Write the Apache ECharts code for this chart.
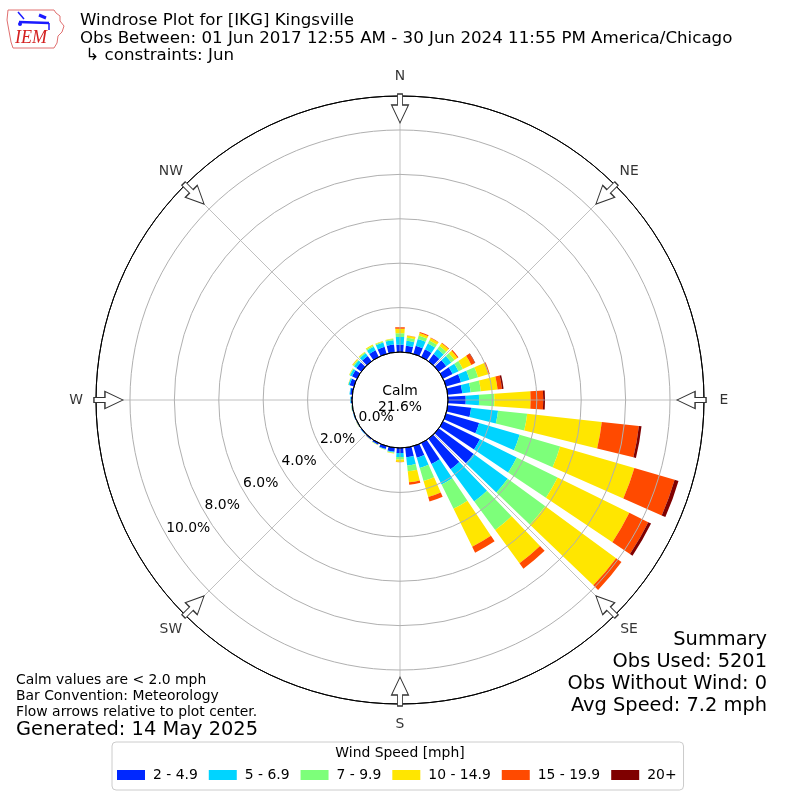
<!DOCTYPE html>
<html><head><meta charset="utf-8">
<script src="https://cdn.jsdelivr.net/npm/echarts@6/dist/echarts.min.js"></script>
<style>html,body{margin:0;padding:0;background:#fff}#c{width:800px;height:800px}</style>
</head><body><div id="c"></div>
<script>
// ---- data (percent of observations) ----
const directions = [0,10,20,30,40,50,60,70,80,90,100,110,120,130,140,150,160,170,180,190,200,210,220,230,240,250,260,270,280,290,300,310,320,330,340,350];
const speedBins = ['2 - 4.9', '5 - 6.9', '7 - 9.9', '10 - 14.9', '15 - 19.9', '20+'];
const binColors = ['#0028ff', '#00d4ff', '#7dff7a', '#ffe600', '#ff4a00', '#7f0000'];
const speed2to5   = [0.33,0.30,0.38,0.38,0.40,0.42,0.48,0.70,0.66,0.80,1.06,1.55,1.85,1.95,1.70,1.05,0.55,0.43,0.23,0.18,0.14,0.08,0.05,0.04,0.03,0.03,0.03,0.05,0.10,0.20,0.25,0.28,0.30,0.33,0.33,0.35];
const speed5to7   = [0.35,0.22,0.32,0.30,0.28,0.28,0.30,0.40,0.38,0.60,1.22,1.90,1.85,1.90,1.80,1.03,0.48,0.38,0.18,0.04,0.02,0.01,0.01,0.01,0.01,0.01,0.02,0.03,0.03,0.06,0.10,0.13,0.15,0.18,0.20,0.20];
const speed7to10  = [0.17,0.14,0.16,0.15,0.17,0.18,0.22,0.40,0.46,0.69,1.32,1.90,2.05,2.10,1.60,1.22,0.61,0.26,0.11,0.02,0.01,0.01,0.00,0.00,0.00,0.00,0.00,0.00,0.00,0.01,0.03,0.05,0.05,0.06,0.05,0.05];
const speed10to15 = [0.20,0.09,0.12,0.12,0.15,0.17,0.42,0.48,0.76,1.63,3.38,3.48,3.60,3.95,1.85,1.90,0.75,0.50,0.11,0.02,0.01,0.01,0.01,0.00,0.01,0.00,0.01,0.00,0.00,0.01,0.02,0.04,0.03,0.05,0.03,0.02];
const speed15to20 = [0.07,0.01,0.05,0.02,0.04,0.05,0.18,0.07,0.20,0.57,1.68,1.89,0.95,0.30,0.30,0.30,0.21,0.11,0.01,0,0,0,0,0,0,0,0,0,0,0,0,0.01,0,0,0,0];
const speed20up   = [0,0,0,0,0,0,0.02,0,0.07,0.08,0.12,0.18,0.14,0,0,0,0,0,0,0,0,0,0,0,0,0,0,0,0,0,0,0,0,0,0,0];
const binValues = [speed2to5, speed5to7, speed7to10, speed10to15, speed15to20, speed20up];
const compassNames = ['N','NE','E','SE','S','SW','W','NW'];
const compassAngles = [0,45,90,135,180,225,270,315];
const radiusTicks = [0,2,4,6,8,10];
const calmPercent = 21.6;
const titleLines = ['Windrose Plot for [IKG] Kingsville',
  'Obs Between: 01 Jun 2017 12:55 AM - 30 Jun 2024 11:55 PM America/Chicago',
  ' \u21b3 constraints: Jun'];
const noteLines = ['Calm values are < 2.0 mph', 'Bar Convention: Meteorology', 'Flow arrows relative to plot center.'];
const summaryLines = ['Summary', 'Obs Used: 5201', 'Obs Without Wind: 0', 'Avg Speed: 7.2 mph'];
const generatedText = 'Generated: 14 May 2025';

// ---- chart ----
const FONT = 'DejaVu Sans';
const RMAX = 11.53;
const ARROW_R = 10.97;
const chart = echarts.init(document.getElementById('c'), null, {renderer: 'canvas'});

const barSeries = speedBins.map((name, i) => ({
  name: name, type: 'bar', coordinateSystem: 'polar', polarIndex: 0, stack: 'wind',
  data: binValues[i], barCategoryGap: '24%', itemStyle: {color: binColors[i]}, silent: true
}));

const arrowSeries = {
  type: 'scatter', coordinateSystem: 'polar', polarIndex: 1, z: 6, silent: true,
  symbol: 'path://M6,0L11,0L11,11L17,11L8.5,29L0,11L6,11Z', symbolSize: [17, 29],
  itemStyle: {color: '#ffffff', borderColor: '#333333', borderWidth: 1.1, opacity: 1},
  data: compassAngles.map(a => ({value: [ARROW_R, a], symbolRotate: -a}))
};

// compass names on an outer ring polar (radius axis 0..1, labels at its outer edge)
const compassLabelSeries = {
  type: 'scatter', coordinateSystem: 'polar', polarIndex: 3, z: 6, silent: true,
  symbolSize: 2, itemStyle: {color: 'rgba(255,255,255,0)'},
  label: {show: true, position: 'inside', color: '#000', fontSize: 13.9, fontFamily: FONT,
    formatter: p => compassNames[p.dataIndex]},
  labelLayout: {hideOverlap: false},
  data: compassAngles.map(a => [1, a])
};

const graphics = [];
function txt(text, x, y, size, align, extra) {
  graphics.push(Object.assign({
    type: 'text', z: 100, silent: true,
    style: {text: text, x: x, y: y, fill: '#000', font: size + 'px "' + FONT + '"',
      align: align, textAlign: align, verticalAlign: 'middle', textVerticalAlign: 'middle'}
  }, extra || {}));
}
titleLines.forEach((t, i) => txt(t, 80, 21 + i * 17.5, 16.67, 'left'));
noteLines.forEach((t, i) => txt(t, 16, 680 + i * 16, 13.9, 'left'));
txt(generatedText, 16, 730, 19.4, 'left');
summaryLines.forEach((t, i) => txt(t, 767, 640 + i * 22, 19.4, 'right'));
txt('Calm', 400, 391, 13.9, 'center');
txt(calmPercent.toFixed(1) + '%', 400, 407, 13.9, 'center');
txt('Wind Speed [mph]', 400, 753, 13.9, 'center');

// IEM logo (decoration)
graphics.push({type: 'polyline', z: 100, silent: true,
  shape: {points: [[8,10],[54,10],[56,13],[60,16],[60,21],[64,26],[62,32],[58,36],[57,43],[54,48],[13,48],[11,42],[9,31],[7,20],[8,10]]},
  style: {stroke: '#e07070', lineWidth: 1, fill: null}});
graphics.push({type: 'line', z: 100, silent: true, shape: {x1: 19, y1: 22, x2: 49, y2: 23}, style: {stroke: '#1a1aff', lineWidth: 2.5}});
graphics.push({type: 'line', z: 100, silent: true, shape: {x1: 18, y1: 12, x2: 24, y2: 19}, style: {stroke: '#1a1aff', lineWidth: 1.5}});
graphics.push({type: 'line', z: 100, silent: true, shape: {x1: 39, y1: 15, x2: 46, y2: 18}, style: {stroke: '#1a1aff', lineWidth: 3}});
graphics.push({type: 'line', z: 100, silent: true, shape: {x1: 49, y1: 23, x2: 49, y2: 30}, style: {stroke: '#1a1aff', lineWidth: 1.5}});
graphics.push({type: 'circle', z: 100, silent: true, shape: {cx: 20, cy: 24, r: 2}, style: {fill: '#1a1aff'}});
graphics.push({type: 'text', z: 100, silent: true,
  style: {text: 'IEM', x: 31, y: 38, fill: '#d42020', font: 'italic 18px "Liberation Serif"',
    align: 'center', textAlign: 'center', verticalAlign: 'middle', textVerticalAlign: 'middle'}});

const option = {
  animation: false,
  backgroundColor: '#ffffff',
  textStyle: {fontFamily: FONT},
  polar: [
    {center: [400, 400], radius: [48, 304]},
    {center: [400, 400], radius: [48, 304]},
    {center: [400, 400], radius: [48, 304]},
    {center: [400, 400], radius: [0, 324]}
  ],
  angleAxis: [
    {polarIndex: 0, type: 'category', data: directions.map(String), startAngle: 95, clockwise: true, show: false},
    {polarIndex: 1, type: 'value', min: 0, max: 360, interval: 45, startAngle: 90, clockwise: true, z: 5,
      axisLine: {show: true, lineStyle: {color: '#000', width: 1}},
      axisTick: {show: false},
      splitLine: {show: true, lineStyle: {color: '#b0b0b0', width: 0.8}},
      axisLabel: {show: false}},
    {polarIndex: 2, type: 'value', min: 0, max: 360, startAngle: 210, clockwise: true, show: false},
    {polarIndex: 3, type: 'value', min: 0, max: 360, startAngle: 90, clockwise: true, show: false}
  ],
  radiusAxis: [
    {polarIndex: 0, type: 'value', min: 0, max: RMAX, show: false},
    {polarIndex: 1, type: 'value', min: 0, max: RMAX, interval: 2, z: 5,
      axisLine: {show: false}, axisTick: {show: false}, axisLabel: {show: false},
      splitLine: {show: true, lineStyle: {color: ['#000', '#b0b0b0', '#b0b0b0', '#b0b0b0', '#b0b0b0', '#b0b0b0', '#000'], width: 1}}},
    {polarIndex: 2, type: 'value', min: 0, max: RMAX, interval: 2, z: 5,
      axisLine: {show: false}, axisTick: {show: false}, splitLine: {show: false},
      axisLabel: {show: true, margin: 0, align: 'left', verticalAlign: 'bottom', color: '#000', fontSize: 13.9, fontFamily: FONT,
        formatter: v => radiusTicks.indexOf(Math.round(v * 1000) / 1000) >= 0 ? v.toFixed(1) + '%' : ''}},
    {polarIndex: 3, type: 'value', min: 0, max: 1, show: false}
  ],
  legend: {
    data: speedBins, left: 112, top: 742, orient: 'horizontal',
    itemWidth: 28, itemHeight: 10, itemGap: 11, icon: 'rect',
    padding: [26, 7, 8, 5], borderColor: '#cccccc', borderWidth: 1, borderRadius: 4,
    backgroundColor: '#ffffff',
    textStyle: {fontSize: 13.9, fontFamily: FONT, color: '#000', padding: [0, 0, 0, 3]},
    selectedMode: false
  },
  graphic: {elements: graphics},
  series: barSeries.concat([arrowSeries, compassLabelSeries])
};
chart.setOption(option);
</script>
</body></html>
